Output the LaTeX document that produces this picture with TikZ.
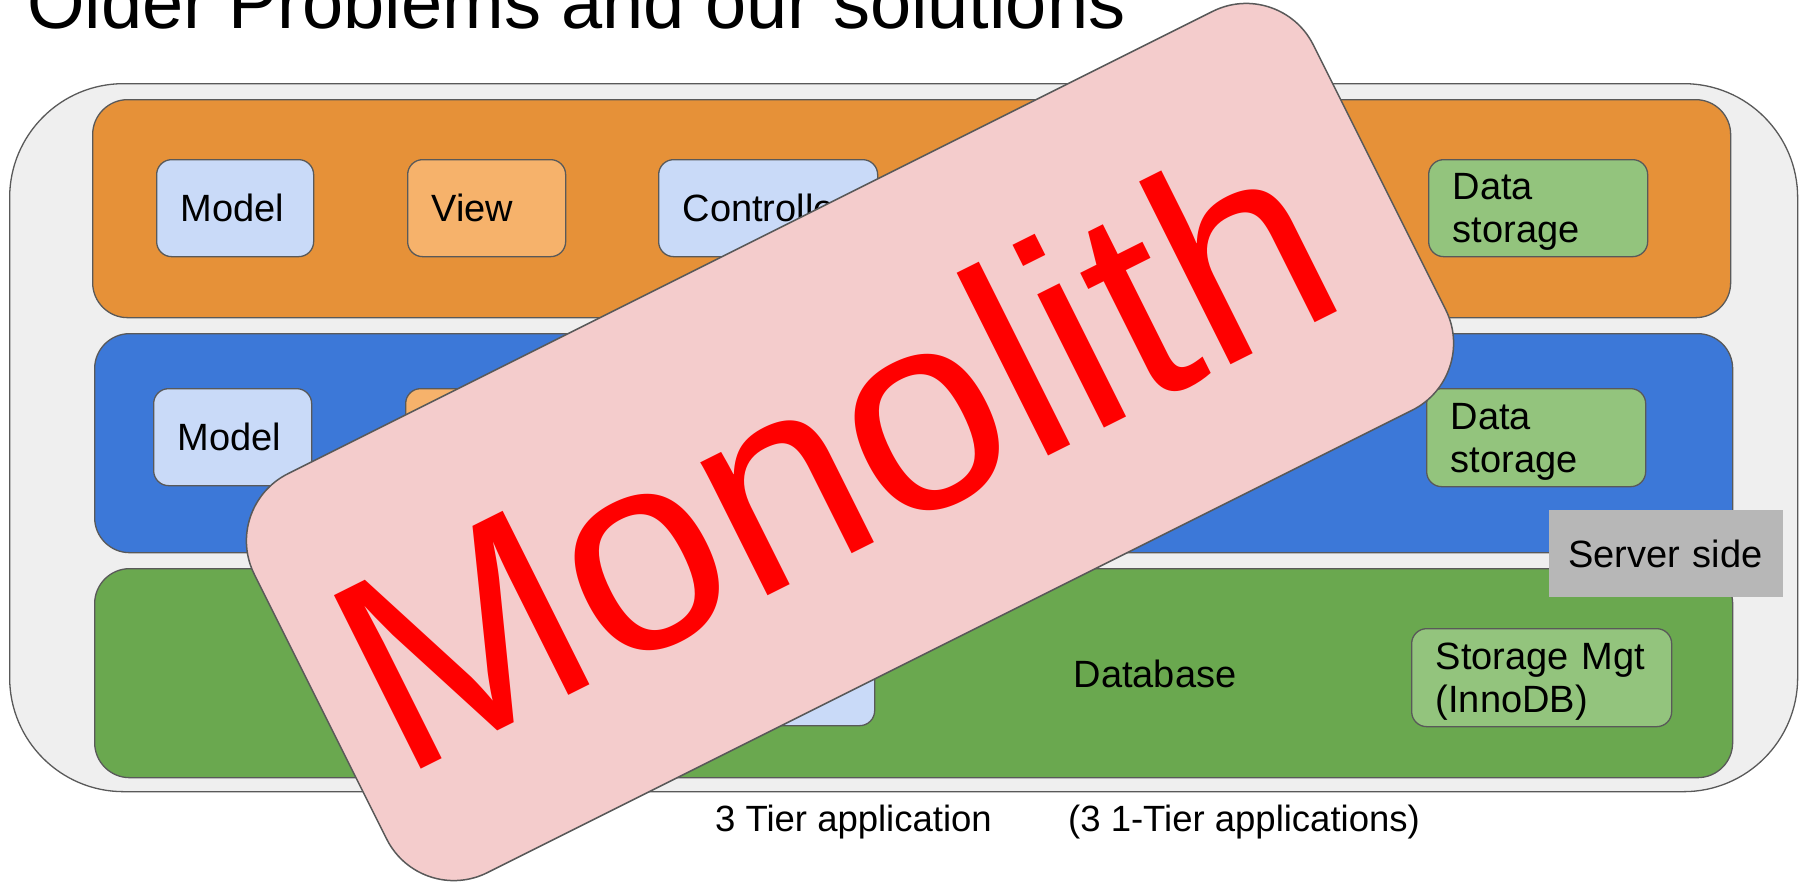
\documentclass[tikz,border=0pt]{standalone}
\usepackage{fontspec}
\setmainfont{Liberation Sans}
\definecolor{edgegray}{HTML}{595959}
\definecolor{outerfill}{HTML}{EFEFEF}
\definecolor{orangeband}{HTML}{E69138}
\definecolor{blueband}{HTML}{3C78D8}
\definecolor{greenband}{HTML}{6AA84F}
\definecolor{lblue}{HTML}{C9DAF8}
\definecolor{lorange}{HTML}{F6B26B}
\definecolor{lgreen}{HTML}{93C47D}
\definecolor{pinkfill}{HTML}{F4CCCC}
\definecolor{grayfill}{HTML}{B7B7B7}
\definecolor{monored}{HTML}{FF0000}
\newcommand\tbfont{\fontsize{38}{43}\selectfont}
\tikzset{
  frame/.style={draw=edgegray, line width=1.3pt},
  band/.style={frame, rounded corners=35pt, anchor=north west, inner sep=0pt},
  box/.style={frame, rounded corners=15pt, anchor=north west, inner xsep=24pt,
    inner ysep=0pt, font=\tbfont, align=left, minimum height=97pt},
  twoline/.style={text depth=43pt},
  plain/.style={inner sep=0pt, font=\tbfont},
}
\begin{document}
\begin{tikzpicture}[x=1pt,y=-1pt]
\useasboundingbox (0,0) rectangle (1803,881);
\fill[white] (0,0) rectangle (1803,881);

% title
\node[inner sep=0pt, anchor=base west, font=\fontsize{74}{80}\selectfont] (title) at (27,28) {Older Problems and our solutions};

% outer frame
\node[frame, fill=outerfill, rounded corners=114pt, anchor=north west, inner sep=0pt,
      minimum width=1788pt, minimum height=708pt] (outer) at (9,83) {};

% bands
\node[band, fill=orangeband, minimum width=1638pt, minimum height=218pt] (tier1) at (92,99) {};
\node[band, fill=blueband, minimum width=1638pt, minimum height=219pt] (tier2) at (94,333) {};
\node[band, fill=greenband, minimum width=1638pt, minimum height=209pt] (tier3) at (94,568) {};

% orange tier boxes
\node[box, fill=lblue, minimum width=157pt, text width=109pt] (m1) at (156,159) {Model};
\node[box, fill=lorange, minimum width=158pt, text width=110pt] (v1) at (407,159) {View};
\node[box, fill=lblue, minimum width=219pt, text width=171pt] (c1) at (658,159) {Controller};
\node[box, twoline, fill=lgreen, minimum width=219pt, text width=171pt] (d1) at (1428,159) {Data\\storage};

% blue tier boxes
\node[box, fill=lblue, minimum width=158pt, text width=110pt] (m2) at (153,388) {Model};
\node[box, fill=lorange, minimum width=158pt, text width=110pt] (v2) at (405,388) {};
\node[box, twoline, fill=lgreen, minimum width=219pt, text width=171pt, minimum height=98pt] (d2) at (1426,388) {Data\\storage};

% green tier boxes
\node[box, fill=lblue, minimum width=218pt, text width=170pt] (q3) at (656,628) {};
\node[plain] (db) at (1155,674) {Database};
\node[box, twoline, fill=lgreen, minimum width=260pt, text width=212pt, minimum height=98pt] (s3) at (1411,628) {Storage Mgt\\(InnoDB)};

% server side label
\node[fill=grayfill, anchor=north west, inner xsep=19pt, inner ysep=0pt, font=\tbfont,
      minimum width=234pt, minimum height=87pt, text width=196pt, align=left] (server) at (1549,510) {Server side};

% captions
\node[inner sep=0pt, anchor=base west, font=\fontsize{36.5}{40}\selectfont] (cap1) at (715,831) {3 Tier application};
\node[inner sep=0pt, anchor=base west, font=\fontsize{36.5}{40}\selectfont] (cap2) at (1068,831) {(3 1-Tier applications)};

% monolith overlay
\node[draw=edgegray, line width=1.5pt, fill=pinkfill, rounded corners=75pt, inner sep=0pt,
      minimum width=1184pt, minimum height=446pt, rotate=26.565] (mono) at (850,442) {};
\node[inner sep=0pt, rotate=26.565, text=monored, font=\fontsize{282}{290}\selectfont] (monotext) at (832,451) {Monolith};
\end{tikzpicture}
\end{document}
